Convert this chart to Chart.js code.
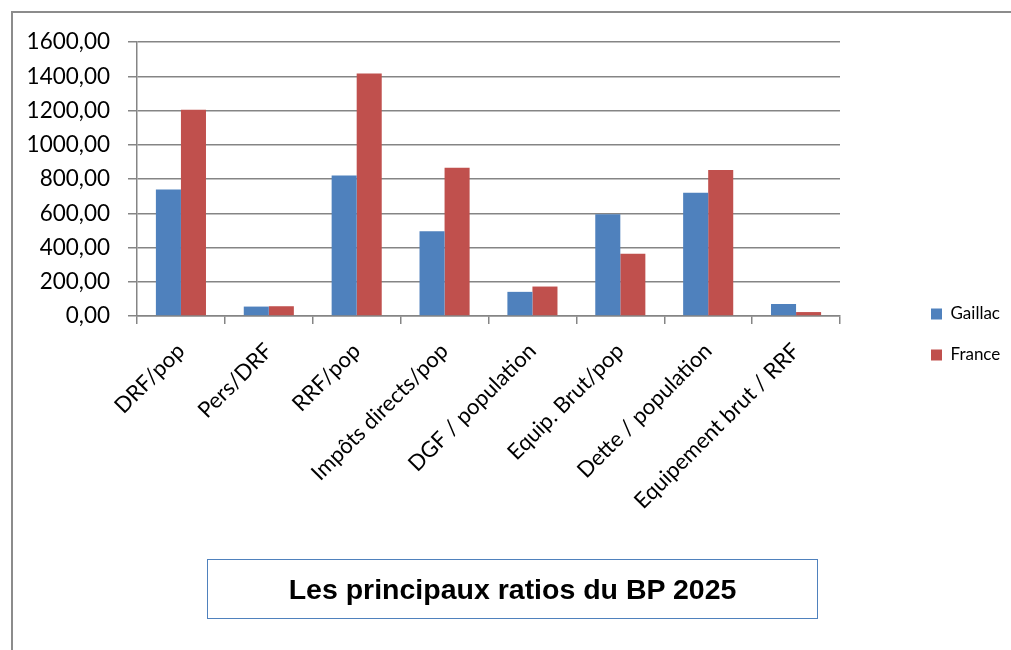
<!DOCTYPE html>
<html>
<head>
<meta charset="utf-8">
<script src="https://cdn.jsdelivr.net/npm/chart.js@4"></script>
<style>
  html, body { margin: 0; padding: 0; background: #fff; overflow: hidden; }
  #wrap { position: relative; width: 1011px; height: 650px; }
  #frame {
    position: absolute; left: 11px; top: 11px; width: 1100px; height: 700px;
    border-left: 2px solid #8c8c8c; border-top: 2px solid #8c8c8c;
  }
  #chart { position: absolute; left: 0; top: 0; }
  #titleBox {
    position: absolute; left: 207px; top: 559px; width: 609px; height: 58px;
    border: 1.5px solid #4F81BD;
    font: bold 28.5px "Liberation Sans", Arial, sans-serif;
    color: #000; text-align: center; line-height: 58px;
  }
</style>
</head>
<body>
<div id="wrap">
  <div id="frame"></div>
  <canvas id="chart" width="1011" height="650"></canvas>
  <div id="titleBox">Les principaux ratios du BP 2025</div>
</div>
<script>
const categories = ["DRF/pop", "Pers/DRF", "RRF/pop", "Impôts directs/pop",
  "DGF / population", "Equip. Brut/pop", "Dette / population", "Equipement brut / RRF"];
const gaillac = [738, 55, 820, 495, 141, 594, 719, 70];
const france = [1204, 57, 1416, 866, 172, 363, 852, 23];
const yTicks = [0, 200, 400, 600, 800, 1000, 1200, 1400, 1600];

const gridColor = "#858585";

// fix legend width so items sit where they do in the original
const legendWidth = {
  id: "legendWidth",
  afterInit(chart) {
    const lg = chart.legend;
    const fit = lg.fit.bind(lg);
    lg.fit = function () { fit(); this.width = 104; };
  }
};

new Chart(document.getElementById("chart"), {
  type: "bar",
  data: {
    labels: categories,
    datasets: [
      { label: "Gaillac", data: gaillac, backgroundColor: "#4F81BD", borderWidth: 0,
        categoryPercentage: 0.57, barPercentage: 1.0 },
      { label: "France", data: france, backgroundColor: "#C0504D", borderWidth: 0,
        categoryPercentage: 0.57, barPercentage: 1.0 }
    ]
  },
  options: {
    responsive: false,
    animation: false,
    layout: { padding: { top: 42, bottom: 23, left: 0, right: 0 } },
    plugins: {
      legend: {
        position: "right",
        align: "center",
        labels: {
          boxWidth: 11, boxHeight: 11, padding: 24, color: "#000",
          font: { family: "Lato", size: 17 }
        }
      },
      tooltip: { enabled: false }
    },
    scales: {
      x: {
        grid: { offset: true, drawOnChartArea: false, drawTicks: true, tickLength: 8,
          color: gridColor, lineWidth: 1.5 },
        border: { color: gridColor, width: 1.5 },
        ticks: { minRotation: 45, maxRotation: 45, padding: 14, color: "#000",
          font: { family: "Lato", size: 22 } },
        afterFit(s) { s.height = 311; }
      },
      y: {
        min: 0, max: 1600,
        afterBuildTicks(s) { s.ticks = yTicks.map(v => ({ value: v })); },
        grid: { color: gridColor, lineWidth: 1.5, tickLength: 9 },
        border: { color: gridColor, width: 1.5 },
        ticks: {
          padding: 18, color: "#000", font: { family: "Lato", size: 22.5 },
          callback: v => v.toFixed(2).replace(".", ",")
        },
        afterFit(s) { s.width = 137; }
      },
      pad: {
        type: "linear", position: "right", display: true,
        grid: { display: false }, border: { display: false },
        ticks: { display: false },
        afterFit(s) { s.width = 67; }
      }
    }
  },
  plugins: [legendWidth]
});
</script>
</body>
</html>
